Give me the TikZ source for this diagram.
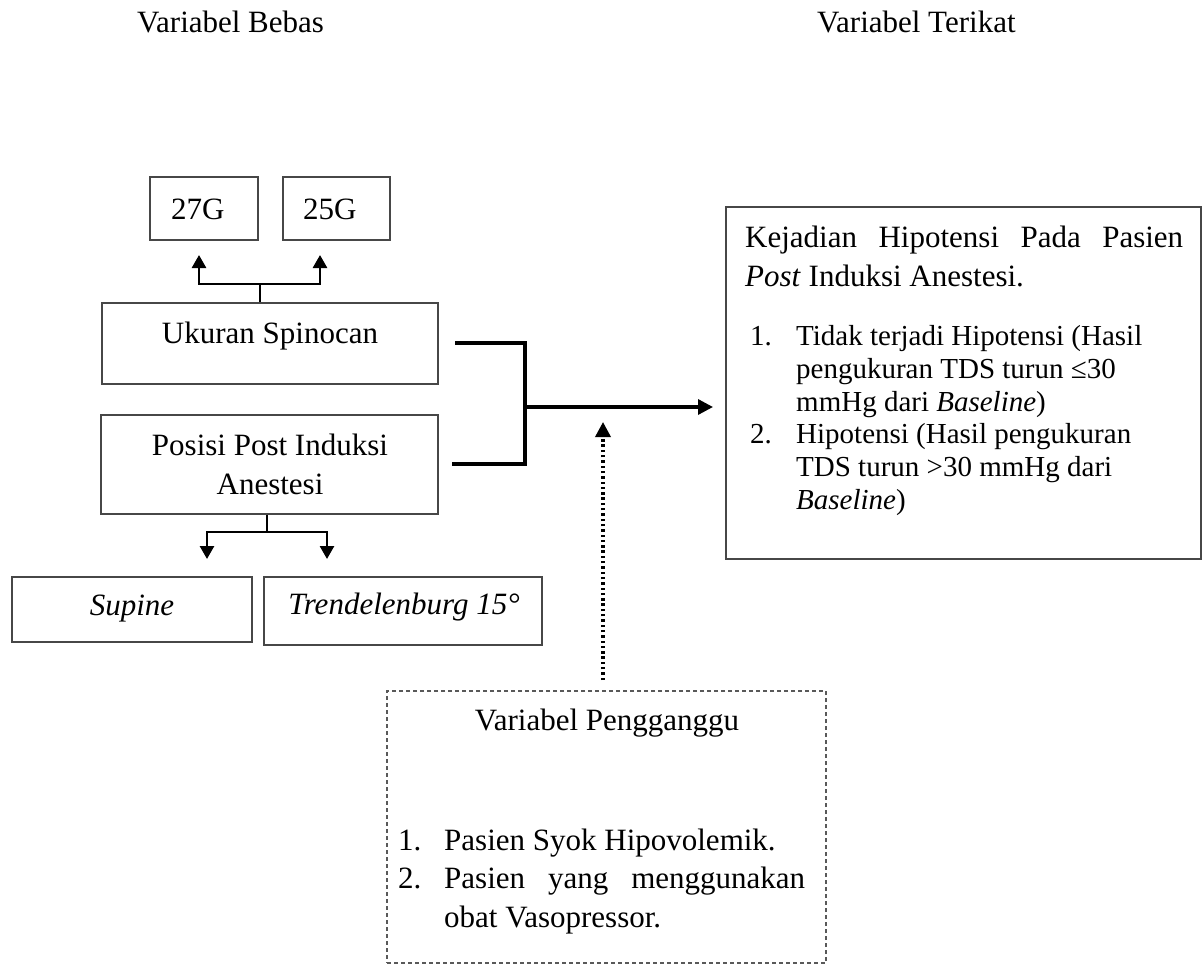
\documentclass[tikz,border=0pt]{standalone}
\usepackage{fontspec}
\setmainfont{Liberation Serif}
\usetikzlibrary{arrows.meta,calc}
\begin{document}
\begin{tikzpicture}[x=1pt,y=-1pt,
  every node/.style={inner sep=0pt, font=\fontsize{31}{39}\selectfont},
  box/.style={draw=black!72, line width=1.4pt},
  txt/.style={anchor=base west},
  ctxt/.style={anchor=base},
  small/.style={font=\fontsize{29}{33}\selectfont},
  conn/.style={line width=2.7pt, black},
  brk/.style={line width=3.3pt, black, line join=miter},
  tip/.style={-{Triangle[width=14pt,length=13pt]}},
  bigtip/.style={-{Triangle[width=15pt,length=15pt]}},
  ganggubox/.style={draw=black!65, line width=1.3pt, dash pattern=on 4pt off 3pt},
  dotline/.style={line width=3.4pt, black, dash pattern=on 2.4pt off 2.9pt}]
\useasboundingbox (0,0) rectangle (1203,964);

% titles
\node[txt] (tb) at (137,32) {Variabel Bebas};
\node[txt] (tt) at (817,32) {Variabel Terikat};

% boxes
\node[box, minimum width=108pt, minimum height=63pt] (b27) at (204,208.5) {};
\node[box, minimum width=107pt, minimum height=63pt] (b25) at (336.5,208.5) {};
\node[box, minimum width=336pt, minimum height=81pt] (uk) at (270,343.5) {};
\node[box, minimum width=337pt, minimum height=99pt] (po) at (269.5,464.5) {};
\node[box, minimum width=240pt, minimum height=65pt] (su) at (132,609.5) {};
\node[box, minimum width=278pt, minimum height=68pt] (tr) at (403,611) {};
\node[box, minimum width=475pt, minimum height=352pt] (ha) at (963.5,383) {};
\node[ganggubox, minimum width=439pt, minimum height=272pt] (ga) at (606.5,827) {};

% box texts
\node[txt] (t27) at (171,219) {27G};
\node[txt] (t25) at (303,219) {25G};
\node[ctxt] (tuk) at (270,343) {Ukuran Spinocan};
\node[ctxt] (tpo1) at (270,455) {Posisi Post Induksi};
\node[ctxt] (tpo2) at (270,494) {Anestesi};
\node[ctxt] (tsu) at (132,615) {\textit{Supine}};
\node[ctxt] (ttr) at (404,614) {\textit{Trendelenburg 15°}};

% right box text
\node[txt] (h1) at (745,247) {\makebox[438pt][s]{Kejadian Hipotensi Pada Pasien}};
\node[txt] (h2) at (745,286) {\textit{Post} Induksi Anestesi.};
\node[txt,small] (n1) at (750,345) {1.};
\node[txt,small] (l1) at (796,345) {Tidak terjadi Hipotensi (Hasil};
\node[txt,small] (l2) at (796,378) {pengukuran TDS turun ≤30};
\node[txt,small] (l3) at (796,411) {mmHg dari \textit{Baseline})};
\node[txt,small] (n2) at (750,443) {2.};
\node[txt,small] (l4) at (796,443) {Hipotensi (Hasil pengukuran};
\node[txt,small] (l5) at (796,476) {TDS turun >30 mmHg dari};
\node[txt,small] (l6) at (796,509) {\textit{Baseline})};

% confounder box text
\node[ctxt] (gt) at (607,730) {Variabel Pengganggu};
\node[txt] (g1n) at (398,850) {1.};
\node[txt] (g1) at (444,850) {Pasien Syok Hipovolemik.};
\node[txt] (g2n) at (398,888) {2.};
\node[txt] (g2) at (444,888) {\makebox[361pt][s]{Pasien yang menggunakan}};
\node[txt] (g3) at (444,927) {obat Vasopressor.};

% fork above Ukuran Spinocan
\coordinate (fa) at (260,284);
\coordinate (a27) at (199,255);
\coordinate (a25) at (320,255);
\draw[conn] (fa |- uk.north) -- (fa);
\draw[conn,tip] (fa) -| (a27);
\draw[conn,tip] (fa) -| (a25);

% fork below Posisi
\coordinate (fb) at (267,532);
\coordinate (asu) at (207,559);
\coordinate (atr) at (327,559);
\draw[conn] (fb |- po.south) -- (fb);
\draw[conn,tip] (fb) -| (asu);
\draw[conn,tip] (fb) -| (atr);

% bracket to outcome
\coordinate (bt) at (455,343);
\coordinate (bb) at (452,464);
\coordinate (bj) at (525,407);
\coordinate (ah) at (713,407);
\draw[brk] (bt) -| (bj |- bb) -- (bb);
\draw[brk,bigtip] (bj) -- (ah);

% dotted arrow from confounder
\coordinate (db) at (603,680);
\coordinate (dt) at (603,422);
\draw[dotline,bigtip] (db) -- (dt);
\end{tikzpicture}
\end{document}
